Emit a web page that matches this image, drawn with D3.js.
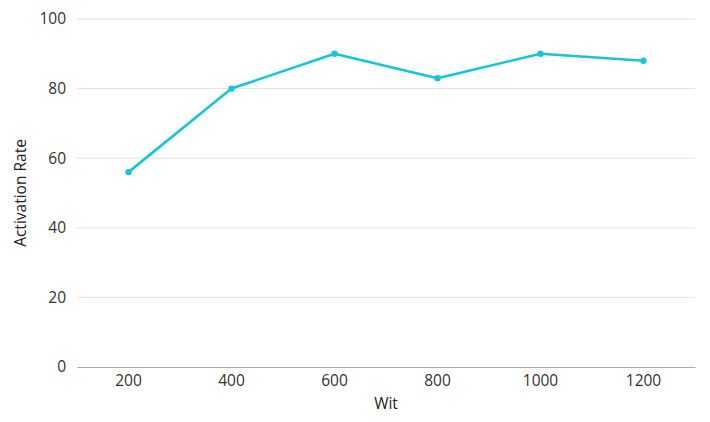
<!DOCTYPE html>
<html><head><meta charset="utf-8">
<script src="https://cdn.jsdelivr.net/npm/d3@7"></script>
<style>body{margin:0;background:#fff;} text{font-family:"Open Sans","Noto Sans",sans-serif;}</style>
</head><body>
<svg id="c" width="710" height="422"></svg>
<script>
const categories = ["200","400","600","800","1000","1200"];
const activationRate = [56, 80, 90, 83, 90, 88];
const yTicks = [0, 20, 40, 60, 80, 100];

const svg = d3.select("#c");
const m = {left: 77, right: 15, top: 19, bottom: 55};
const W = 710, H = 422;
const FONT = "'Open Sans', 'Noto Sans', sans-serif";
const x = d3.scaleBand().domain(categories).range([m.left, W - m.right]).padding(0);
const y = d3.scaleLinear().domain([0, 100]).range([H - m.bottom, m.top]);

// gridlines
svg.append("g").selectAll("line").data(yTicks.filter(d => d > 0)).join("line")
  .attr("x1", m.left).attr("x2", W - m.right)
  .attr("y1", d => y(d)).attr("y2", d => y(d))
  .attr("stroke", "#e3e3e3").attr("stroke-width", 1);

// y axis
const ya = svg.append("g").attr("transform", `translate(${m.left},0)`)
  .call(d3.axisLeft(y).tickValues(yTicks).tickSize(0).tickPadding(11));
ya.select(".domain").remove();
ya.selectAll("text").attr("font-size", 15.5).attr("fill", "#333").style("font-family", FONT);

// x axis
const xa = svg.append("g").attr("transform", `translate(0,${y(0)})`)
  .call(d3.axisBottom(x).tickSize(0).tickPadding(8));
xa.select(".domain").attr("stroke", "#aaa").attr("stroke-width", 1.2);
xa.selectAll("text").attr("font-size", 15.5).attr("fill", "#333").style("font-family", FONT);

// line
const data = categories.map((c, i) => ({c, v: activationRate[i]}));
svg.append("path").datum(data)
  .attr("fill", "none").attr("stroke", "#17c6d6").attr("stroke-width", 2.6)
  .attr("stroke-linejoin", "round")
  .attr("d", d3.line().x(d => x(d.c) + x.bandwidth() / 2).y(d => y(d.v)));
svg.append("g").selectAll("circle").data(data).join("circle")
  .attr("cx", d => x(d.c) + x.bandwidth() / 2).attr("cy", d => y(d.v))
  .attr("r", 3.2).attr("fill", "#17c6d6");

// titles
svg.append("text").attr("x", (m.left + W - m.right) / 2).attr("y", 409)
  .attr("text-anchor", "middle").attr("font-size", 15.5).attr("fill", "#222")
  .style("font-family", FONT).text("Wit");
svg.append("text")
  .attr("transform", `translate(26,${(y(0) + y(100)) / 2}) rotate(-90)`)
  .attr("text-anchor", "middle").attr("font-size", 15.5).attr("fill", "#222")
  .style("font-family", FONT).text("Activation Rate");
</script>
</body></html>
